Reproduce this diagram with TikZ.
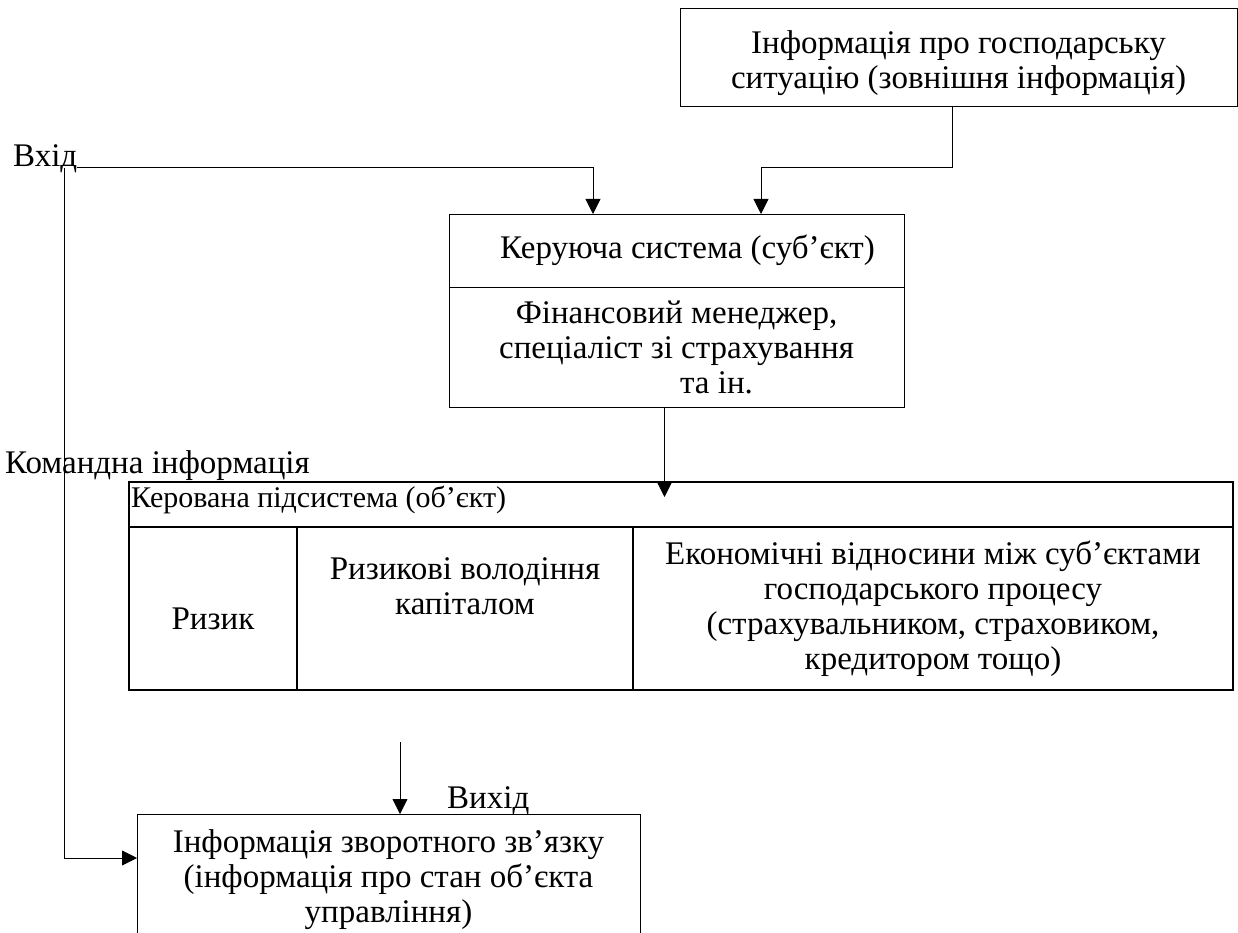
\documentclass[tikz,border=0pt]{standalone}
\usepackage{fontspec}
\setmainfont{Liberation Serif}
\usetikzlibrary{positioning,arrows.meta}
\tikzset{
  flowarrow/.style={-{Triangle[length=15pt,width=15pt]}, line width=0.8pt},
  framebox/.style={draw, line width=0.8pt, inner sep=0pt, outer sep=0pt, anchor=north west, align=center},
  tablebox/.style={draw, line width=1.6pt, inner sep=0pt, outer sep=0pt, anchor=north west},
  celltext/.style={inner sep=0pt, align=center},
  plaintext/.style={inner sep=0pt, anchor=base west}
}

\begin{document}
\begin{tikzpicture}[x=1pt, y=-1pt, every node/.style={font=\fontsize{33}{35}\selectfont}]
  \clip (0,0) rectangle (1238,933);

  % external information
  \node[framebox, minimum width=557pt, minimum height=98pt] (ext) at (680,8) {};
  \node[celltext] (extText) at ([yshift=-6pt]ext.center)
    {Інформація про господарську\\ситуацію (зовнішня інформація)};

  % managing system
  \node[framebox, minimum width=455pt, minimum height=73pt] (ctrlHead) at (449,214)
    {\hspace*{22pt}Керуюча система (суб’єкт)};
  \node[framebox, minimum width=455pt, minimum height=120pt, below=0pt of ctrlHead] (ctrlBody)
    {Фінансовий менеджер,\\спеціаліст зі страхування\\\hspace*{80pt}та ін.};

  % managed subsystem
  \node[tablebox, minimum width=1104pt, minimum height=45pt] (objHead) at (129,482) {};
  \node[plaintext, font=\fontsize{30}{35}\selectfont] (objText) at (131,507) {Керована підсистема (об’єкт)};
  \node[tablebox, minimum width=168pt, minimum height=163pt, below=0pt of objHead.south west, anchor=north west] (cellRisk) {};
  \node[tablebox, minimum width=336pt, minimum height=163pt, right=0pt of cellRisk] (cellCap) {};
  \node[tablebox, minimum width=600pt, minimum height=163pt, right=0pt of cellCap] (cellEcon) {};
  \node[celltext, anchor=base] (riskText) at ([yshift=-102pt]cellRisk.north) {Ризик};
  \node[celltext, anchor=north] (capText) at ([yshift=-30pt]cellCap.north) {Ризикові володіння\\капіталом};
  \node[celltext] (econText) at (cellEcon.center) {Економічні відносини між суб’єктами\\господарського процесу\\(страхувальником, страховиком,\\кредитором тощо)};

  % feedback information
  \node[framebox, minimum width=503pt, minimum height=131pt] (fb) at (137,814)
    {Інформація зворотного зв’язку\\(інформація про стан об’єкта\\управління)};

  % labels
  \node[plaintext] (vhid) at (13,167) {Вхід};
  \node[plaintext] (cmd) at (5,473) {Командна інформація};
  \node[plaintext] (vyhid) at (447,808) {Вихід};

  \coordinate (inTurn) at (64,168);
  \coordinate (outStart) at (400,742);

  % connectors
  \draw[flowarrow] (vhid.base east) -| ([xshift=144pt]ctrlHead.north west);
  \draw[flowarrow] ([xshift=-6pt]ext.south) |- ([xshift=312pt,yshift=47pt]ctrlHead.north west)
    -- ([xshift=312pt]ctrlHead.north west);
  \draw[flowarrow] ([xshift=-12pt]ctrlBody.south) -- ([xshift=-12pt,yshift=-15pt]ctrlBody.south |- objHead.north);
  \draw[flowarrow] (outStart) -- (outStart |- fb.north);
  \draw[flowarrow] (inTurn) |- ([yshift=21.5pt]fb.west);
\end{tikzpicture}
\end{document}
